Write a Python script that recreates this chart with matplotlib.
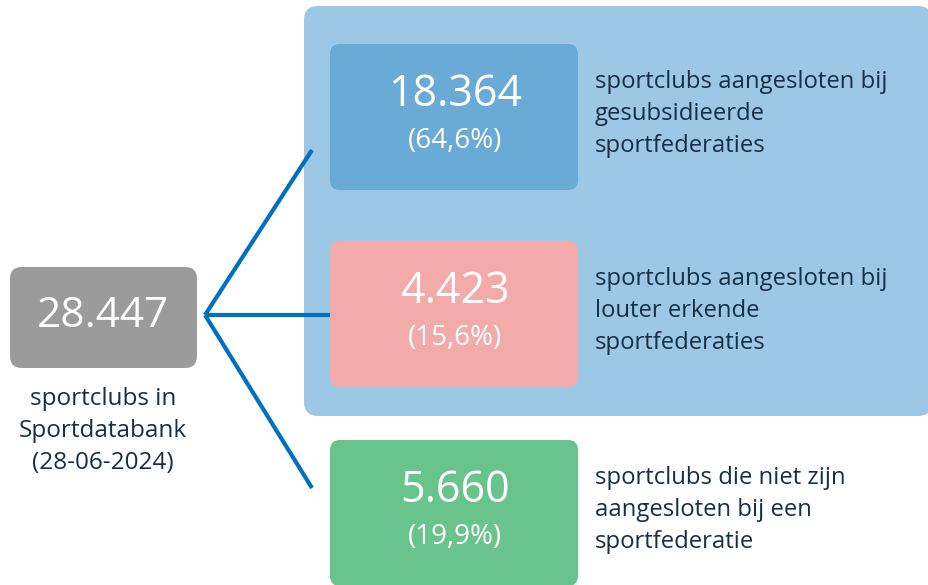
import matplotlib.pyplot as plt
from matplotlib.patches import FancyBboxPatch

# Data
total_value = "28.447"
total_label = "sportclubs in\nSportdatabank\n(28-06-2024)"
values = ["18.364", "4.423", "5.660"]
shares = ["(64,6%)", "(15,6%)", "(19,9%)"]
labels = [
    "sportclubs aangesloten bij\ngesubsidieerde\nsportfederaties",
    "sportclubs aangesloten bij\nlouter erkende\nsportfederaties",
    "sportclubs die niet zijn\naangesloten bij een\nsportfederatie",
]
colors = ["#69abd6", "#f2abaa", "#68c48c"]

text_color = "#172f45"
line_color = "#0070c0"
plt.rcParams['font.family'] = ['Open Sans', 'DejaVu Sans']

fig = plt.figure(figsize=(9.29, 5.85), dpi=100)
ax = fig.add_axes([0, 0, 1, 1])
ax.set_xlim(0, 929)
ax.set_ylim(585, 0)
ax.axis('off')


def rbox(x0, y0, x1, y1, color, r=12, z=1):
    p = FancyBboxPatch((x0 + r, y0 + r), x1 - x0 - 2 * r, y1 - y0 - 2 * r,
                       boxstyle=f"round,pad={r}", fc=color, ec='none', zorder=z)
    ax.add_patch(p)


# light blue background panel for federations
rbox(304, 6, 932, 416, "#9dc8e5", r=14, z=0)

# total box
rbox(10, 267, 197, 368, "#9b9b9b", r=12)
ax.text(103, 316, total_value, color='white', fontsize=30.5, ha='center', va='center')
ax.text(103, 431, total_label, color=text_color, fontsize=17.5, ha='center', va='center',
        linespacing=1.42)

# connector lines
hub = (205, 315)
ends = [(312, 150), (330, 315), (312, 488)]
for ex, ey in ends:
    ax.plot([hub[0], ex], [hub[1], ey], color=line_color, lw=3.0,
            solid_capstyle='butt', zorder=2)

tops = [44, 241, 440]
for i in range(3):
    y0 = tops[i]
    rbox(330, y0, 578, y0 + 146, colors[i], r=10, z=1)
    ax.text(455, y0 + 51, values[i], color='white', fontsize=31, ha='center', va='center')
    ax.text(455, y0 + 97, shares[i], color='white', fontsize=20, ha='center', va='center')
    ax.text(595, y0 + 70, labels[i], color=text_color, fontsize=17.2, ha='left', va='center',
            linespacing=1.42)

fig.savefig("out.png", dpi=100)
